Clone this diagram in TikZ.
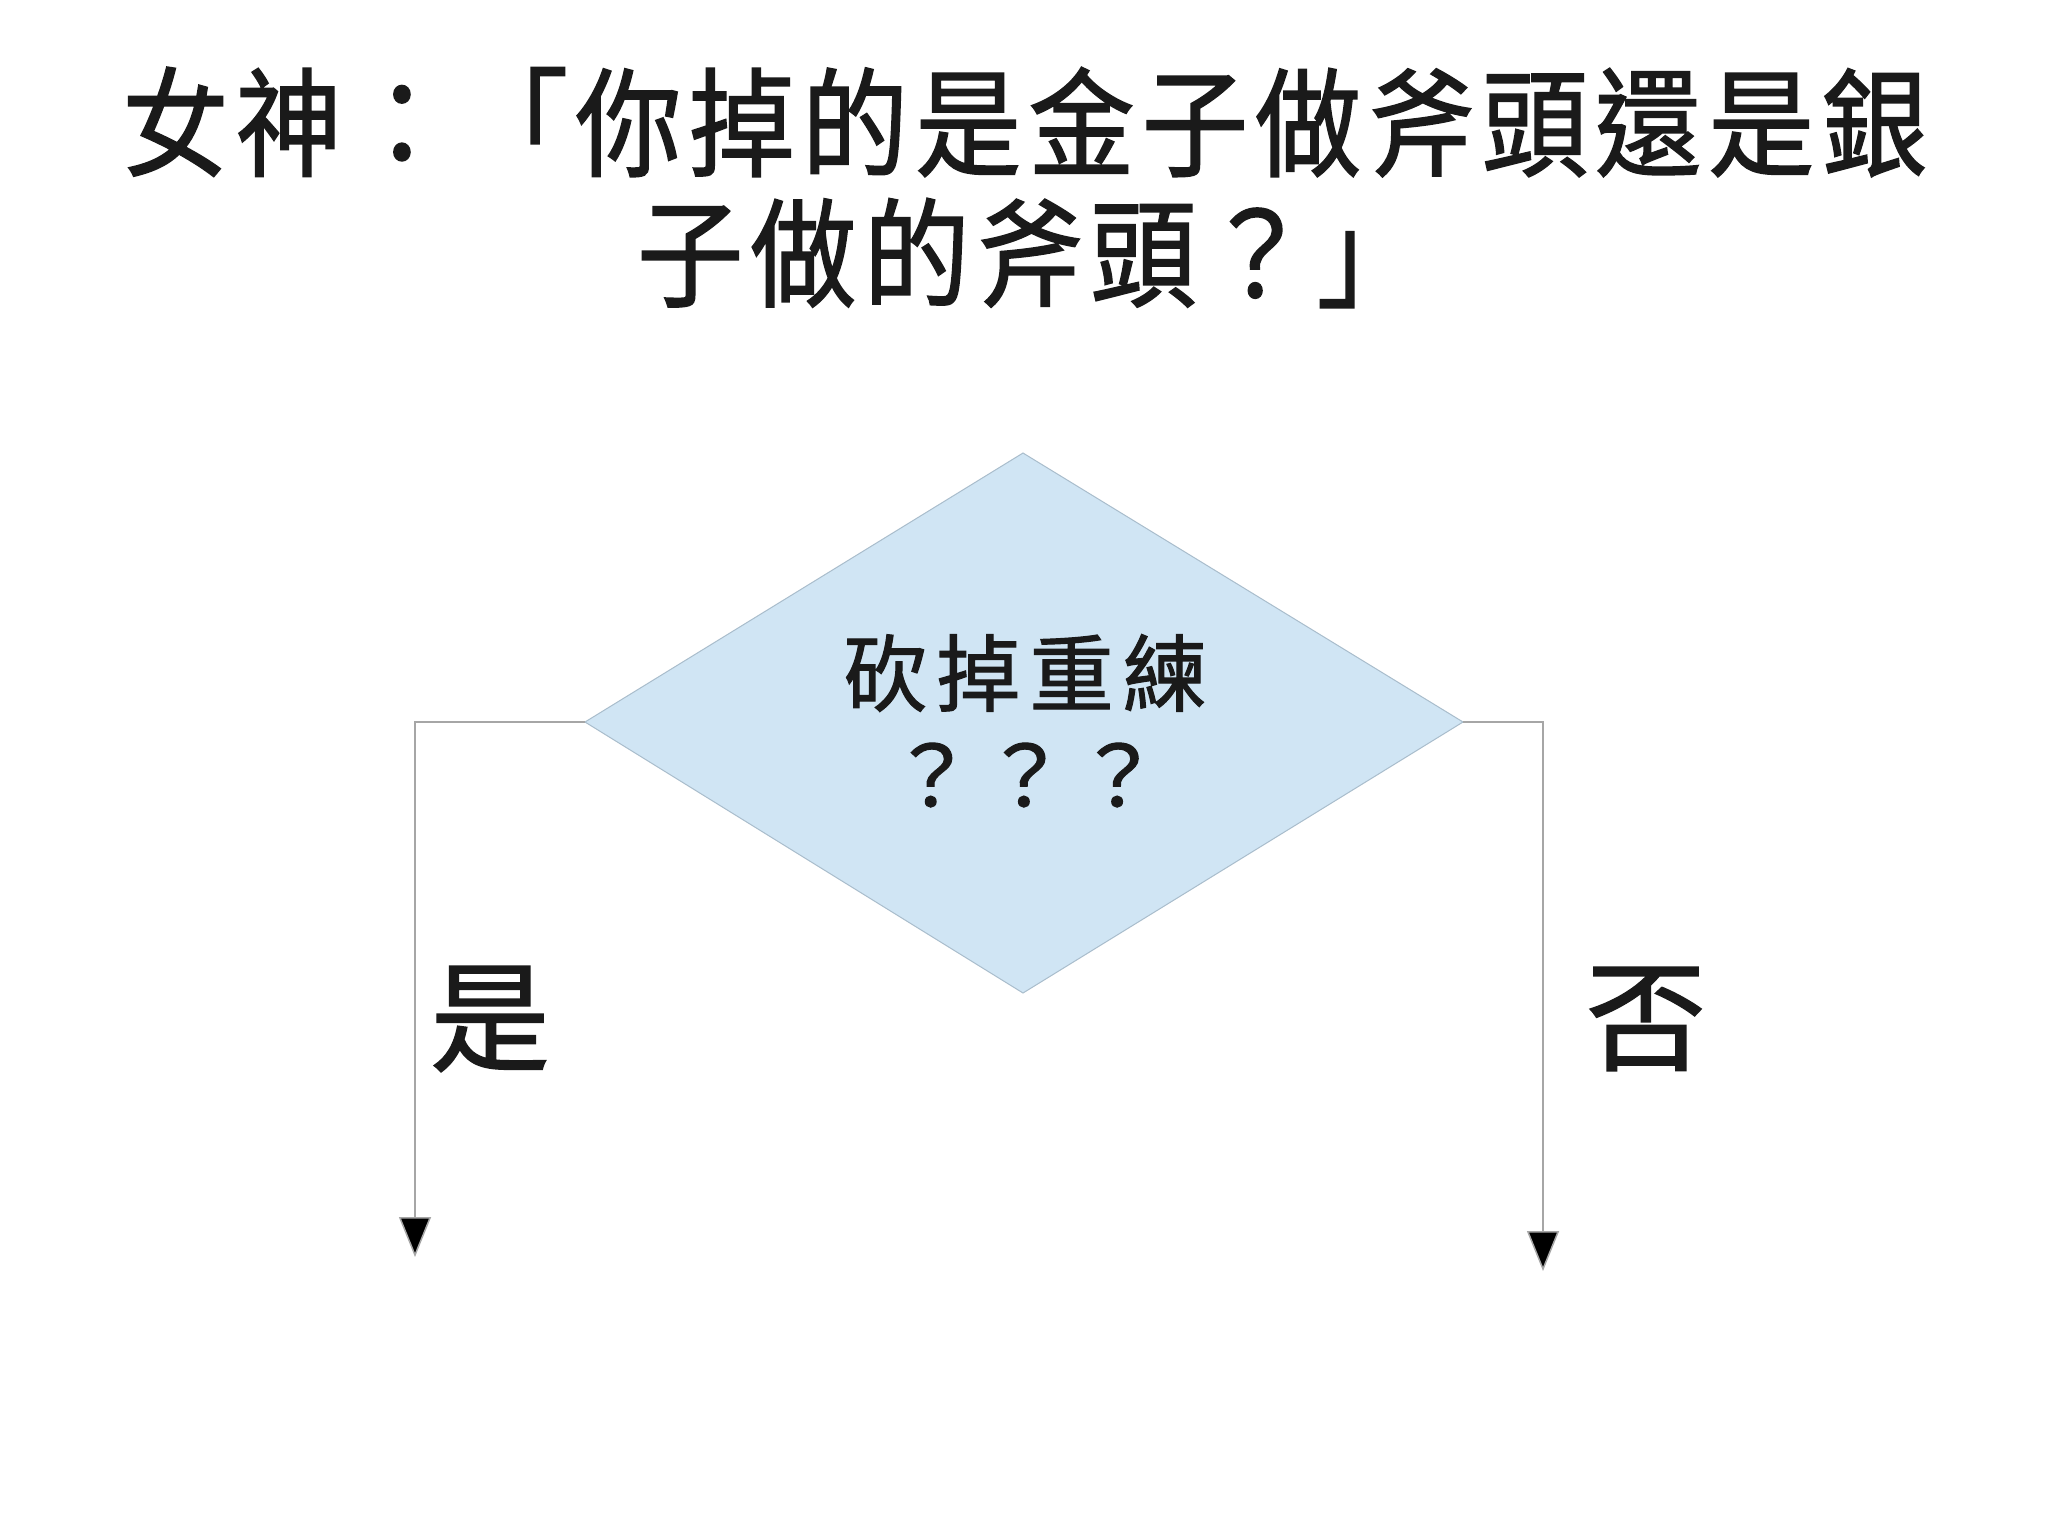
\documentclass[tikz,border=0pt]{standalone}
\usepackage{fontspec}
\newfontfamily\cjk[FakeBold=1.3]{Noto Sans CJK TC}
\usetikzlibrary{arrows.meta}
\definecolor{ink}{HTML}{1A1A1A}
\definecolor{dfill}{HTML}{D0E5F4}
\definecolor{dline}{HTML}{A9BDCC}
\definecolor{cline}{HTML}{A6A6A6}
\tikzset{
  titletext/.style={font=\cjk\addfontfeature{FakeStretch=0.9,LetterSpace=6}\fontsize{118}{134}\selectfont, text=ink, align=center, inner sep=0pt},
  dtext/.style={font=\cjk\addfontfeature{LetterSpace=11}\fontsize{84}{107}\selectfont, text=ink, align=center, inner sep=0pt},
  branch/.style={font=\cjk\fontsize{120}{130}\selectfont, text=ink, inner sep=0pt},
  conn/.style={draw=cline, line width=1.5pt, -{Triangle[length=40pt,width=32pt,fill=black]}},
}
\begin{document}
\begin{tikzpicture}[x=1pt,y=-1pt]
\useasboundingbox (0,0) rectangle (2048,1535);
\fill[white] (0,0) rectangle (2048,1535);
% title
\node[titletext] (t1) at (1025,122) {女神：「你掉的是金子做斧頭還是銀};
\node[titletext] (t2) at (1030,253) {子做的斧頭？」};
% diamond
\coordinate (dT) at (1023,453);
\coordinate (dL) at (585,722);
\coordinate (dR) at (1463,722);
\coordinate (dB) at (1023,993);
\filldraw[fill=dfill, draw=dline, line width=1pt] (dT) -- (dR) -- (dB) -- (dL) -- cycle;
\node[dtext] (q1) at (1025,673) {砍掉重練};
\node[dtext] (q2) at (1025,775) {？？？};
% connectors
\coordinate (yesEnd) at (415,1257);
\coordinate (noEnd) at (1543,1271);
\draw[conn] (dL) -| (yesEnd);
\draw[conn] (dR) -| (noEnd);
% labels
\node[branch] (yes) at (490,1019) {是};
\node[branch] (no) at (1646,1019) {否};
\end{tikzpicture}
\end{document}
